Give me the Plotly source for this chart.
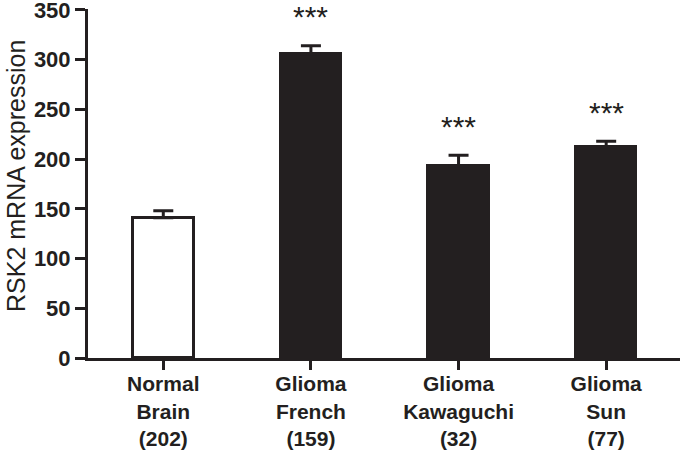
import plotly.graph_objects as go

categories = ["Normal<br>Brain<br>(202)", "Glioma<br>French<br>(159)",
              "Glioma<br>Kawaguchi<br>(32)", "Glioma<br>Sun<br>(77)"]
values = [141, 306, 193, 212]
errors = [7, 8, 11, 6]
fills = ["white", "#231f20", "#231f20", "#231f20"]
signif = ["", "***", "***", "***"]
y_ticks = [0, 50, 100, 150, 200, 250, 300, 350]
y_title = "RSK2 mRNA expression"

ink = "#231f20"
xs = list(range(len(categories)))

fig = go.Figure()
fig.add_trace(go.Bar(
    x=xs, y=values, width=0.41,
    marker=dict(color=fills, line=dict(color=ink, width=3)),
    error_y=dict(type="data", array=errors, arrayminus=[0] * len(errors),
                 symmetric=False, color=ink, thickness=3, width=10),
    showlegend=False, hoverinfo="skip",
))

for x, v, e, s in zip(xs, values, errors, signif):
    if s:
        fig.add_annotation(x=x, y=v + e + 29, text=s, showarrow=False,
                           yanchor="middle", xanchor="center",
                           font=dict(family="Liberation Sans", size=30, color=ink))

fig.add_annotation(xref="paper", yref="paper", x=0, y=0.5215, xshift=-72,
                   text=y_title, textangle=-90, showarrow=False,
                   xanchor="center", yanchor="middle",
                   font=dict(family="Liberation Sans", size=25, color=ink))

fig.update_layout(
    width=680, height=453,
    margin=dict(l=88, r=0, t=9, b=95),
    plot_bgcolor="white", paper_bgcolor="white",
    font=dict(family="Liberation Sans", color=ink),
    bargap=0,
)
fig.update_xaxes(
    range=[-0.51, 3.5], tickvals=xs,
    ticktext=["<b>" + c.replace("<br>", "</b><br><b>") + "</b>" for c in categories],
    showline=True, linecolor=ink, linewidth=3, ticks="outside", ticklen=9,
    tickwidth=3, tickcolor=ink, showgrid=False, zeroline=False, automargin=False,
    ticklabelstandoff=-4,
    tickfont=dict(family="Liberation Sans", size=21, color=ink),
)
fig.update_yaxes(
    range=[0, 351], tickvals=y_ticks, ticktext=[f"<b>{t}</b>" for t in y_ticks],
    showline=True, linecolor=ink, linewidth=3, ticks="outside", ticklen=10,
    tickwidth=3, tickcolor=ink, showgrid=False, zeroline=False, automargin=False,
    ticklabeloverflow="allow",
    tickfont=dict(family="Liberation Sans", size=22, color=ink),
)
fig.write_html("out.html", config={"displayModeBar": False},
               post_script="document.body.style.margin='0';document.body.style.overflow='hidden';")
